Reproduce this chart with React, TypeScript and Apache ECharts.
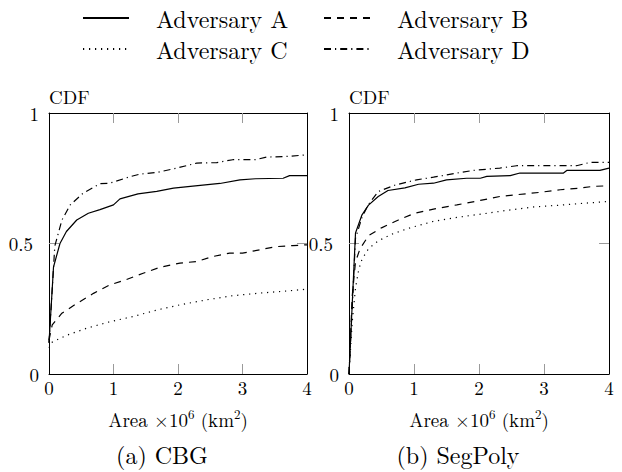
import React, { useEffect, useRef } from "react";
import * as echarts from "echarts";

const seriesNames = ["Adversary A", "Adversary B", "Adversary C", "Adversary D"];
const panelCaptions = ["(a) CBG", "(b) SegPoly"];
const xTickValues = [0, 1, 2, 3, 4];
const yTickValues = [0, 0.5, 1];

// Panel (a) CBG
const cbgA = [[0, 0.12], [0.07, 0.41], [0.17, 0.5], [0.27, 0.546], [0.43, 0.59], [0.61, 0.616], [0.79, 0.63], [1.0, 0.648], [1.1, 0.671], [1.38, 0.69], [1.67, 0.7], [1.93, 0.712], [2.23, 0.72], [2.65, 0.73], [2.96, 0.744], [3.2, 0.748], [3.63, 0.75], [3.73, 0.76], [4, 0.76]];
const cbgB = [[0, 0.13], [0.05, 0.188], [0.2, 0.233], [0.43, 0.27], [0.69, 0.309], [0.94, 0.341], [1.2, 0.362], [1.46, 0.386], [1.72, 0.409], [2.03, 0.425], [2.29, 0.431], [2.54, 0.45], [2.8, 0.463], [3.0, 0.463], [3.27, 0.476], [3.52, 0.488], [3.78, 0.492], [4, 0.495]];
const cbgC = [[0, 0.1], [0.05, 0.122], [0.27, 0.148], [0.58, 0.175], [0.94, 0.2], [1.3, 0.22], [1.67, 0.245], [2.03, 0.265], [2.44, 0.284], [2.85, 0.3], [3.27, 0.31], [3.68, 0.318], [4, 0.325]];
const cbgD = [[0, 0.12], [0.09, 0.49], [0.2, 0.59], [0.33, 0.648], [0.53, 0.693], [0.79, 0.729], [0.94, 0.731], [1.23, 0.754], [1.41, 0.766], [1.67, 0.772], [1.98, 0.789], [2.29, 0.808], [2.6, 0.81], [2.85, 0.821], [3.2, 0.821], [3.37, 0.831], [3.73, 0.834], [4, 0.84]];

// Panel (b) SegPoly
const segA = [[0, 0], [0.1, 0.54], [0.2, 0.61], [0.3, 0.647], [0.45, 0.68], [0.6, 0.703], [0.86, 0.713], [1.07, 0.727], [1.3, 0.731], [1.5, 0.744], [1.81, 0.75], [2.02, 0.75], [2.12, 0.757], [2.48, 0.76], [2.63, 0.77], [3.3, 0.77], [3.35, 0.78], [3.86, 0.78], [4, 0.789]];
const segB = [[0, 0], [0.05, 0.3], [0.1, 0.43], [0.17, 0.48], [0.3, 0.53], [0.5, 0.56], [0.76, 0.59], [1.0, 0.615], [1.3, 0.632], [1.66, 0.648], [2.02, 0.665], [2.32, 0.68], [2.58, 0.687], [2.94, 0.696], [3.25, 0.706], [3.55, 0.712], [3.76, 0.719], [4, 0.721]];
const segC = [[0, 0], [0.05, 0.2], [0.1, 0.33], [0.15, 0.4], [0.2, 0.44], [0.3, 0.48], [0.45, 0.51], [0.65, 0.535], [0.94, 0.56], [1.3, 0.585], [1.66, 0.6], [2.07, 0.614], [2.43, 0.627], [2.84, 0.64], [3.25, 0.647], [3.66, 0.655], [4, 0.661]];
const segD = [[0, 0], [0.1, 0.52], [0.2, 0.6], [0.3, 0.65], [0.45, 0.699], [0.71, 0.724], [1.04, 0.744], [1.3, 0.754], [1.66, 0.77], [1.91, 0.78], [2.32, 0.789], [2.58, 0.798], [3.5, 0.798], [3.71, 0.811], [4, 0.811]];

const panels = [
  [cbgA, cbgB, cbgC, cbgD],
  [segA, segB, segC, segD],
];

const FONT = "Latin Modern Roman";
const lineTypes: any[] = ["solid", [7, 6], [1.2, 4.8], [7, 4, 1.2, 4]];

export default function App() {
  const ref = useRef<HTMLDivElement>(null);
  useEffect(() => {
    if (!ref.current) return;
    const chart = echarts.init(ref.current, null, { renderer: "svg" });

    const grids = [
      { left: 49, top: 113, width: 258, height: 261 },
      { left: 349, top: 113, width: 260, height: 261 },
    ];
    const tickStyle = { color: "#9a9a9a", width: 1 };
    const axisLine = { show: true, onZero: false, lineStyle: { color: "#000", width: 1 } };
    const xMin = xTickValues[0];
    const xMax = xTickValues[xTickValues.length - 1];
    const yMin = yTickValues[0];
    const yMax = yTickValues[yTickValues.length - 1];

    const xAxis: any[] = [];
    const yAxis: any[] = [];
    grids.forEach((_, gi) => {
      xAxis.push({
        type: "value", gridIndex: gi, position: "bottom", min: xMin, max: xMax, interval: 1,
        axisLine,
        axisTick: { show: true, inside: true, length: 10, lineStyle: tickStyle, customValues: xTickValues.slice(1, -1) },
        axisLabel: { show: true, margin: 4, fontFamily: FONT, fontSize: 19, color: "#000", customValues: xTickValues },
        splitLine: { show: false },
        name: "{n|Area ×10}{s|6}{n| (km}{s|2}{n|)}",
        nameLocation: "middle",
        nameGap: 33,
        nameTextStyle: {
          rich: {
            n: { fontFamily: FONT, fontSize: 19, color: "#000", lineHeight: 24 },
            s: { fontFamily: FONT, fontSize: 13, color: "#000", lineHeight: 12, verticalAlign: "top" },
          },
        },
      });
      xAxis.push({
        type: "value", gridIndex: gi, position: "top", min: xMin, max: xMax, interval: 1,
        axisLine,
        axisTick: { show: true, inside: true, length: 10, lineStyle: tickStyle, customValues: xTickValues.slice(1, -1) },
        axisLabel: { show: false },
        splitLine: { show: false },
      });
      yAxis.push({
        type: "value", gridIndex: gi, position: "left", min: yMin, max: yMax, interval: 0.5,
        axisLine,
        axisTick: { show: true, inside: true, length: 10, lineStyle: tickStyle, customValues: yTickValues.slice(1, -1) },
        axisLabel: {
          show: true, margin: 10, fontFamily: FONT, fontSize: 19, color: "#000", customValues: yTickValues,
          formatter: (v: number) => (v === 0.5 ? "{p|0.5}" : "{q|" + v + "}"),
          rich: {
            p: { fontFamily: FONT, fontSize: 19, color: "#000", padding: [0, 6, 0, 0] },
            q: { fontFamily: FONT, fontSize: 19, color: "#000" },
          },
        },
        splitLine: { show: false },
        name: "CDF",
        nameLocation: "end",
        nameGap: 7,
        nameTextStyle: { fontFamily: FONT, fontSize: 19, color: "#000", align: "left" },
      });
      yAxis.push({
        type: "value", gridIndex: gi, position: "right", min: yMin, max: yMax, interval: 0.5,
        axisLine,
        axisTick: { show: true, inside: true, length: 10, lineStyle: tickStyle, customValues: yTickValues.slice(1, -1) },
        axisLabel: { show: false },
        splitLine: { show: false },
      });
    });

    const series: any[] = [];
    panels.forEach((sets, pi) => {
      sets.forEach((data, si) => {
        series.push({
          type: "line",
          name: seriesNames[si],
          xAxisIndex: pi * 2,
          yAxisIndex: pi * 2,
          data,
          symbol: "none",
          silent: true,
          lineStyle: { color: "#000", width: 1.2, type: lineTypes[si] },
          itemStyle: { color: "#000" },
          z: 3,
        });
      });
    });

    const legendBase = {
      orient: "horizontal",
      padding: 0,
      itemWidth: 46,
      itemHeight: 12,
      selectedMode: false,
      itemStyle: { opacity: 0 },
      textStyle: { fontFamily: FONT, fontSize: 24, color: "#000", lineHeight: 22, padding: [0, 0, 0, 22] },
    };
    const legendPos = [
      { left: 82, top: 6 },
      { left: 323, top: 6 },
      { left: 82, top: 37 },
      { left: 323, top: 37 },
    ];
    const legend = seriesNames.map((nm, i) => ({ ...legendBase, ...legendPos[i], data: [nm] }));

    chart.setOption({
      animation: false,
      backgroundColor: "#fff",
      grid: grids,
      xAxis,
      yAxis,
      legend,
      series,
      graphic: [
        { type: "text", x: 162, y: 454, style: { text: panelCaptions[0], fontFamily: FONT, fontSize: 24, fill: "#000", textAlign: "center", textVerticalAlign: "middle" } },
        { type: "text", x: 458, y: 454, style: { text: panelCaptions[1], fontFamily: FONT, fontSize: 24, fill: "#000", textAlign: "center", textVerticalAlign: "middle" } },
      ],
    });
    return () => chart.dispose();
  }, []);
  return <div ref={ref} style={{ position: "fixed", left: 0, top: 0, width: 622, height: 472 }} />;
}
